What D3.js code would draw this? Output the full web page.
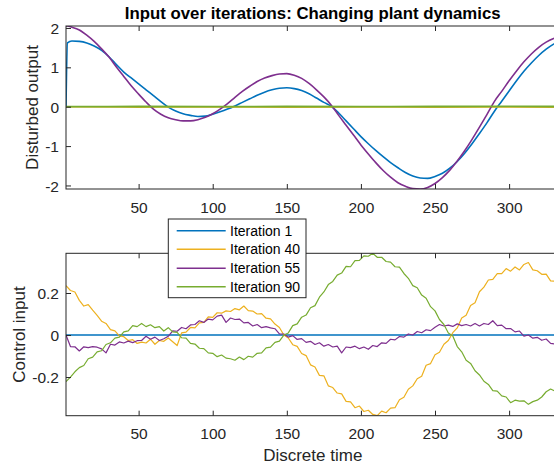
<!DOCTYPE html>
<html>
<head>
<meta charset="utf-8">
<script src="https://cdn.jsdelivr.net/npm/d3@7"></script>
<style>
  html, body { margin: 0; padding: 0; background: #fff; }
  svg { display: block; font-family: "Liberation Sans", Arial, Helvetica, sans-serif; }
</style>
</head>
<body>
<svg id="chart" width="554" height="466"></svg>
<script>
// ---------------- DATA ----------------
const titleText = "Input over iterations: Changing plant dynamics";
const seriesNames = ["Iteration 1", "Iteration 40", "Iteration 55", "Iteration 90"];
const seriesColors = ["#0072BD", "#EDB120", "#7E2F8E", "#77AC30"];
const xTicks = [50, 100, 150, 200, 250, 300];
const topYTicks = [-2, -1, 0, 1, 2];
const topYTickLabels = ["-2", "-1", "0", "1", "2"];
const bottomYTicks = [-0.2, 0, 0.2];
const bottomYTickLabels = ["-0.2", "0", "0.2"];
const xDomain = [1, 334];
const topYDomain = [-2.09, 2.05];
const bottomYDomain = [-0.384, 0.389];

// Top subplot: disturbed output
const topT = [1,2,5,10,15,20,25,30,35,40,45,50,55,60,65,70,75,80,85,90,95,100,105,110,115,120,125,130,135,140,145,150,155,160,165,170,175,180,185,190,195,200,205,210,215,220,225,230,235,240,245,250,255,260,265,270,275,280,285,290,295,300,305,310,315,320,325,330,334];
const outIter1 = [0,1.62,1.67,1.66,1.62,1.54,1.43,1.27,1.07,0.88,0.73,0.58,0.43,0.28,0.13,-0.01,-0.11,-0.18,-0.22,-0.25,-0.24,-0.19,-0.13,-0.06,0.02,0.11,0.20,0.29,0.37,0.43,0.47,0.48,0.46,0.41,0.33,0.22,0.11,0.01,-0.16,-0.36,-0.56,-0.76,-0.94,-1.11,-1.27,-1.42,-1.55,-1.67,-1.76,-1.81,-1.82,-1.77,-1.69,-1.56,-1.39,-1.18,-0.94,-0.68,-0.41,-0.12,0.14,0.40,0.66,0.90,1.11,1.30,1.46,1.59,1.67];
const outIter55 = [2.05,2.05,2.02,1.95,1.82,1.66,1.47,1.26,1.01,0.77,0.53,0.32,0.12,-0.06,-0.19,-0.28,-0.33,-0.36,-0.36,-0.33,-0.27,-0.18,-0.06,0.08,0.24,0.39,0.52,0.64,0.73,0.79,0.83,0.84,0.80,0.72,0.59,0.43,0.25,0.04,-0.22,-0.47,-0.72,-0.97,-1.20,-1.42,-1.62,-1.79,-1.93,-2.02,-2.08,-2.09,-2.05,-1.95,-1.80,-1.61,-1.38,-1.12,-0.83,-0.52,-0.20,0.13,0.39,0.66,0.91,1.14,1.34,1.51,1.64,1.73,1.78];
const topTFlat = [1, 50, 100, 150, 200, 250, 300, 334];
const outIter40 = [0, -0.01, -0.005, -0.01, -0.008, -0.01, -0.005, -0.01];
const outIter90 = [0, 0.005, 0.003, 0.006, 0.004, 0.005, 0.008, 0.005];

// Bottom subplot: control input (sampled every 3 steps from t = 1)
const bottomT = d3.range(1, 335, 3);
const inIter1 = bottomT.map(() => 0);
const inIter40 = [
  0.235, 0.212, 0.205, 0.165, 0.138, 0.145, 0.118, 0.093, 0.066, 0.055,
  0.026, 0.02, -0.004, -0.008, -0.026, -0.022, -0.04, -0.034, -0.038, -0.02,
  -0.044, -0.026, -0.03, -0.014, -0.032, -0.05, 0.01, 0.014, 0.036, 0.034,
  0.058, 0.06, 0.086, 0.084, 0.106, 0.104, 0.115, 0.112, 0.126, 0.12,
  0.138, 0.116, 0.114, 0.1, 0.102, 0.08, 0.077, 0.052, 0.036, 0.0,
  -0.014, -0.046, -0.054, -0.088, -0.098, -0.142, -0.152, -0.192, -0.194, -0.242,
  -0.25, -0.276, -0.28, -0.316, -0.318, -0.346, -0.338, -0.364, -0.358, -0.378,
  -0.384, -0.362, -0.37, -0.348, -0.346, -0.308, -0.296, -0.258, -0.242, -0.208,
  -0.196, -0.144, -0.136, -0.094, -0.082, -0.044, -0.026, 0.011, 0.034, 0.081,
  0.094, 0.141, 0.154, 0.206, 0.228, 0.262, 0.265, 0.292, 0.292, 0.316,
  0.304, 0.324, 0.31, 0.336, 0.345, 0.31, 0.306, 0.289, 0.29, 0.258,
  0.256, 0.236];
const inIter55 = [
  0.0, -0.055, -0.056, -0.076, -0.056, -0.06, -0.055, -0.058, -0.066, -0.085,
  -0.044, -0.048, -0.033, -0.038, -0.029, -0.036, -0.027, -0.026, -0.006, -0.02,
  -0.01, -0.026, -0.018, -0.006, 0.02, 0.018, 0.036, 0.03, 0.048, 0.05,
  0.068, 0.06, 0.076, 0.072, 0.09, 0.095, 0.06, 0.081, 0.074, 0.076,
  0.058, 0.06, 0.043, 0.05, 0.035, 0.04, 0.034, 0.03, 0.005, 0.005,
  -0.01, -0.003, -0.021, -0.017, -0.035, -0.03, -0.045, -0.037, -0.053, -0.045,
  -0.057, -0.053, -0.085, -0.057, -0.06, -0.053, -0.065, -0.057, -0.068, -0.05,
  -0.055, -0.037, -0.04, -0.02, -0.023, -0.007, -0.01, 0.005, 0.0, 0.017,
  0.011, 0.025, 0.021, 0.037, 0.05, 0.043, 0.047, 0.041, 0.053, 0.045,
  0.05, 0.043, 0.055, 0.043, 0.055, 0.05, 0.068, 0.045, 0.047, 0.03,
  0.031, 0.015, 0.019, -0.005, 0.0, -0.015, -0.011, -0.025, -0.019, -0.04,
  -0.043, -0.058];
const inIter90 = [
  -0.222, -0.2, -0.175, -0.155, -0.145, -0.113, -0.105, -0.08, -0.075, -0.045,
  -0.037, -0.015, -0.01, 0.015, 0.02, 0.045, 0.04, 0.055, 0.04, 0.049,
  0.035, 0.04, 0.019, 0.035, 0.015, 0.013, -0.013, -0.015, -0.04, -0.043,
  -0.063, -0.065, -0.085, -0.087, -0.103, -0.095, -0.11, -0.113, -0.12, -0.105,
  -0.117, -0.101, -0.105, -0.087, -0.085, -0.061, -0.058, -0.035, -0.029, 0.0,
  0.01, 0.045, 0.053, 0.085, 0.095, 0.13, 0.14, 0.18, 0.205, 0.24,
  0.255, 0.285, 0.295, 0.327, 0.325, 0.354, 0.355, 0.377, 0.375, 0.389,
  0.37, 0.37, 0.35, 0.347, 0.325, 0.323, 0.293, 0.27, 0.235, 0.225,
  0.19, 0.175, 0.135, 0.115, 0.074, 0.05, 0.01, -0.005, -0.055, -0.08,
  -0.12, -0.135, -0.17, -0.19, -0.22, -0.235, -0.265, -0.267, -0.29, -0.295,
  -0.322, -0.31, -0.315, -0.313, -0.33, -0.317, -0.31, -0.295, -0.27, -0.257,
  -0.267, -0.25];

// ---------------- LAYOUT ----------------
const svg = d3.select("#chart");
const axisColor = "#262626";
const left = 66, right = 559.5;
const topPanel = { top: 26, bottom: 189 };
const botPanel = { top: 253.3, bottom: 415.7 };

const x = d3.scaleLinear().domain(xDomain).range([left, right]);
const yTop = d3.scaleLinear().domain(topYDomain).range([topPanel.bottom, topPanel.top]);
const yBot = d3.scaleLinear().domain(bottomYDomain).range([botPanel.bottom, botPanel.top]);

function drawPanel(panel, y, yTicks, yLabels, series, clipId) {
  const g = svg.append("g");
  g.append("clipPath").attr("id", clipId)
    .append("rect").attr("x", left).attr("y", panel.top)
    .attr("width", right - left).attr("height", panel.bottom - panel.top);

  const lines = g.append("g").attr("clip-path", `url(#${clipId})`);
  series.forEach(s => {
    const line = d3.line().x((d, i) => x(s.t[i])).y(d => y(d));
    if (s.curve) line.curve(s.curve);
    lines.append("path").datum(s.v)
      .attr("fill", "none").attr("stroke", s.color)
      .attr("stroke-width", s.width).attr("stroke-linejoin", "round")
      .attr("d", line);
  });

  const xb = g.append("g").attr("transform", `translate(0,${panel.bottom})`)
    .call(d3.axisBottom(x).tickValues(xTicks).tickSizeInner(-5).tickSizeOuter(0));
  xb.selectAll("text").attr("dy", null).attr("y", 23.5);
  const xt = g.append("g").attr("transform", `translate(0,${panel.top})`)
    .call(d3.axisTop(x).tickValues(xTicks).tickSizeInner(-5).tickSizeOuter(0).tickFormat(""));
  const yl = g.append("g").attr("transform", `translate(${left},0)`)
    .call(d3.axisLeft(y).tickValues(yTicks).tickFormat((d, i) => yLabels[i])
      .tickSizeInner(-5).tickSizeOuter(0).tickPadding(7));
  yl.selectAll("text").attr("dy", "0.36em");
  const yr = g.append("g").attr("transform", `translate(${right},0)`)
    .call(d3.axisRight(y).tickValues(yTicks).tickSizeInner(-5).tickSizeOuter(0).tickFormat(""));

  [xb, xt, yl, yr].forEach(a => {
    a.select(".domain").remove();
    a.selectAll("line").attr("stroke", axisColor).attr("stroke-width", 1);
    a.selectAll("text").attr("fill", axisColor).attr("font-size", "15.5px")
      .attr("font-family", '"Liberation Sans", Arial, sans-serif');
  });

  g.append("rect").attr("x", left).attr("y", panel.top)
    .attr("width", right - left).attr("height", panel.bottom - panel.top)
    .attr("fill", "none").attr("stroke", axisColor).attr("stroke-width", 1);
  return g;
}

drawPanel(topPanel, yTop, topYTicks, topYTickLabels, [
  { t: topT, v: outIter1, color: seriesColors[0], width: 1.6, curve: d3.curveMonotoneX },
  { t: topTFlat, v: outIter40, color: seriesColors[1], width: 1.6, curve: d3.curveMonotoneX },
  { t: topT, v: outIter55, color: seriesColors[2], width: 1.6, curve: d3.curveMonotoneX },
  { t: topTFlat, v: outIter90, color: seriesColors[3], width: 1.8, curve: d3.curveMonotoneX }
], "clipTop");

drawPanel(botPanel, yBot, bottomYTicks, bottomYTickLabels, [
  { t: bottomT, v: inIter1, color: seriesColors[0], width: 1.5 },
  { t: bottomT, v: inIter40, color: seriesColors[1], width: 1.2 },
  { t: bottomT, v: inIter55, color: seriesColors[2], width: 1.2 },
  { t: bottomT, v: inIter90, color: seriesColors[3], width: 1.2 }
], "clipBot");

// Title
svg.append("text").attr("x", (left + right) / 2).attr("y", 19)
  .attr("text-anchor", "middle").attr("font-weight", "bold")
  .attr("font-size", "16.8px").attr("fill", "#000").text(titleText);

// Axis labels
svg.append("text").attr("transform", `translate(37.5,${(topPanel.top + topPanel.bottom) / 2}) rotate(-90)`)
  .attr("text-anchor", "middle").attr("font-size", "17px").attr("fill", axisColor).text("Disturbed output");
svg.append("text").attr("transform", `translate(24.5,${(botPanel.top + botPanel.bottom) / 2}) rotate(-90)`)
  .attr("text-anchor", "middle").attr("font-size", "17px").attr("fill", axisColor).text("Control input");
svg.append("text").attr("x", (left + right) / 2).attr("y", 461)
  .attr("text-anchor", "middle").attr("font-size", "17px").attr("fill", axisColor).text("Discrete time");

// Legend
const leg = svg.append("g");
leg.append("rect").attr("x", 168.3).attr("y", 219).attr("width", 137.7).attr("height", 78.7)
  .attr("fill", "#fff").attr("stroke", axisColor).attr("stroke-width", 1);
const rowY = [230.7, 249.3, 268.3, 286.7];
seriesNames.forEach((name, i) => {
  leg.append("line").attr("x1", 176.7).attr("x2", 225.7).attr("y1", rowY[i]).attr("y2", rowY[i])
    .attr("stroke", seriesColors[i]).attr("stroke-width", 1.5);
  leg.append("text").attr("x", 230).attr("y", rowY[i]).attr("dy", "0.36em")
    .attr("font-size", "14px").attr("fill", "#000").text(name);
});
</script>
</body>
</html>
